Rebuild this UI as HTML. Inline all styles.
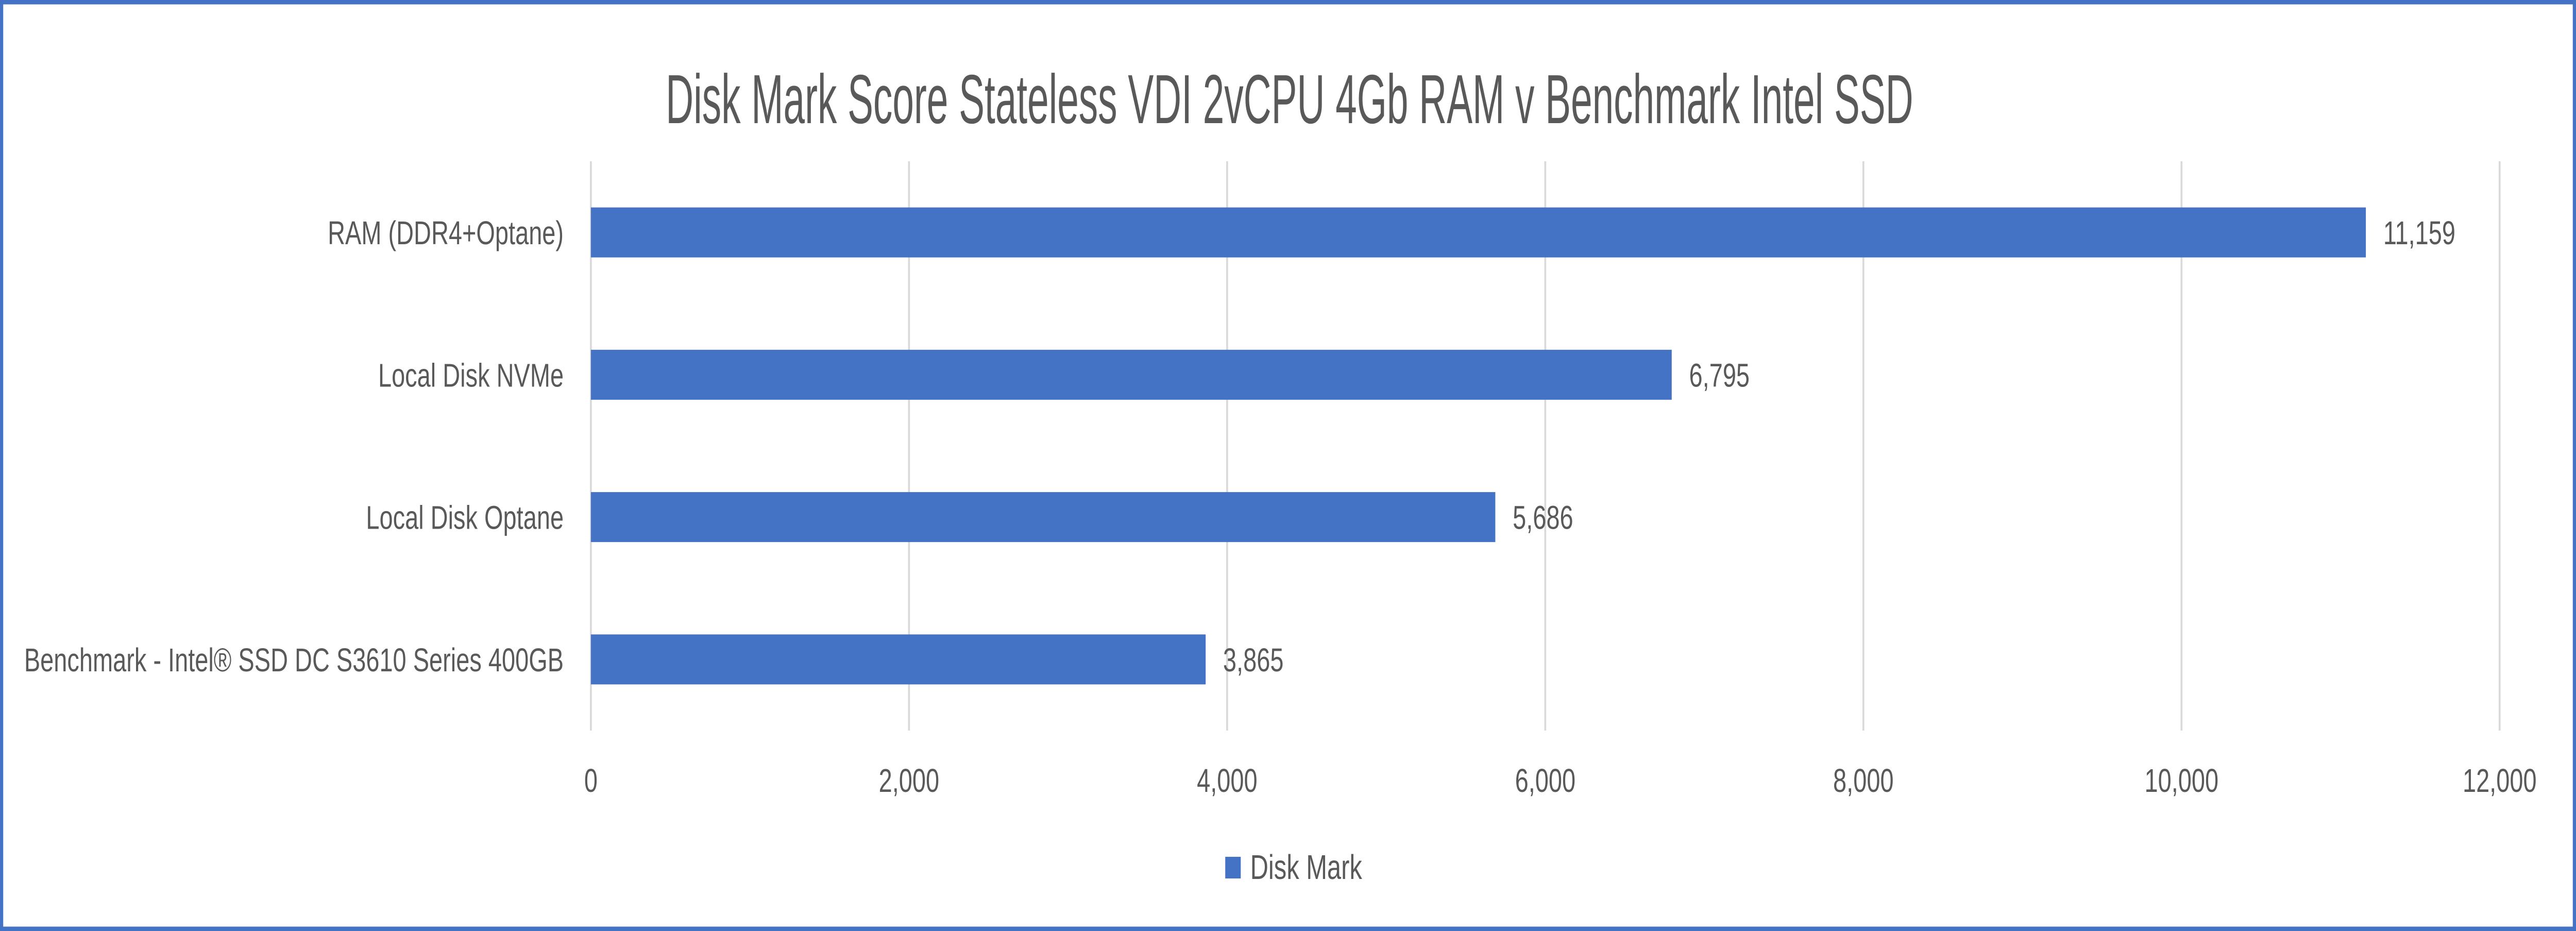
<!DOCTYPE html>
<html><head><meta charset="utf-8"><style>
html,body{margin:0;padding:0;background:#fff;width:100%;height:100%;overflow:hidden}
svg{display:block;width:100vw;height:100vh}
text{font-family:"Liberation Sans",sans-serif;fill:#595959}
</style></head><body>
<svg id="chart" viewBox="0 0 6814 1807" preserveAspectRatio="none" xmlns="http://www.w3.org/2000/svg">
<rect x="4" y="4" width="6806" height="1799" fill="#fff" stroke="#4472C4" stroke-width="9"/>
<text x="3411" y="239" text-anchor="middle" font-size="135" textLength="3300" lengthAdjust="spacingAndGlyphs">Disk Mark Score Stateless VDI 2vCPU 4Gb RAM v Benchmark Intel SSD</text>
<g id="grid"></g>
<g id="bars"></g>
<g id="legend">
<rect x="3241" y="1663" width="41" height="42" fill="#4472C4"/>
<text x="3307" y="1706" font-size="67" textLength="296" lengthAdjust="spacingAndGlyphs">Disk Mark</text>
</g>
</svg>
<script>
const categories = ["RAM (DDR4+Optane)", "Local Disk NVMe", "Local Disk Optane", "Benchmark - Intel® SSD DC S3610 Series 400GB"];
const values = [11159, 6795, 5686, 3865];
const valueLabels = ["11,159", "6,795", "5,686", "3,865"];
const ticks = [0, 2000, 4000, 6000, 8000, 10000, 12000];
const tickLabels = ["0", "2,000", "4,000", "6,000", "8,000", "10,000", "12,000"];

const NS = "http://www.w3.org/2000/svg";
const X0 = 1563, X1 = 6612, XMAX = 12000;
const Y0 = 313, Y1 = 1418;
const x = v => X0 + (v / XMAX) * (X1 - X0);
const band = (Y1 - Y0) / categories.length;
const yc = i => Y0 + band * (i + 0.5);
const barH = 97;
function mk(tag, attrs, parent) {
  const e = document.createElementNS(NS, tag);
  for (const k in attrs) e.setAttribute(k, attrs[k]);
  parent.appendChild(e);
  return e;
}
const grid = document.getElementById('grid');
const bars = document.getElementById('bars');
ticks.forEach((t, i) => {
  const l = mk('line', {x1: x(t), x2: x(t), y1: Y0, y2: Y1, stroke: '#D9D9D9', 'stroke-width': 5}, grid);
  
  
  const tx = mk('text', {x: x(t), y: 1537, 'text-anchor': 'middle', 'font-size': 64}, grid);
  
  
  tx.textContent = tickLabels[i];
});
categories.forEach((c, i) => {
  const r = mk('rect', {x: x(0), y: yc(i) - barH / 2, width: x(values[i]) - x(0), height: barH, fill: '#4472C4'}, bars);
  
  
  const lab = mk('text', {x: 1491, y: yc(i) + 23, 'text-anchor': 'end', 'font-size': 64}, bars);
  
  
  lab.textContent = c;
  const v = mk('text', {x: x(values[i]) + 46, y: yc(i) + 23, 'font-size': 64}, bars);
  
  
  v.textContent = valueLabels[i];
});
</script>
</body></html>
